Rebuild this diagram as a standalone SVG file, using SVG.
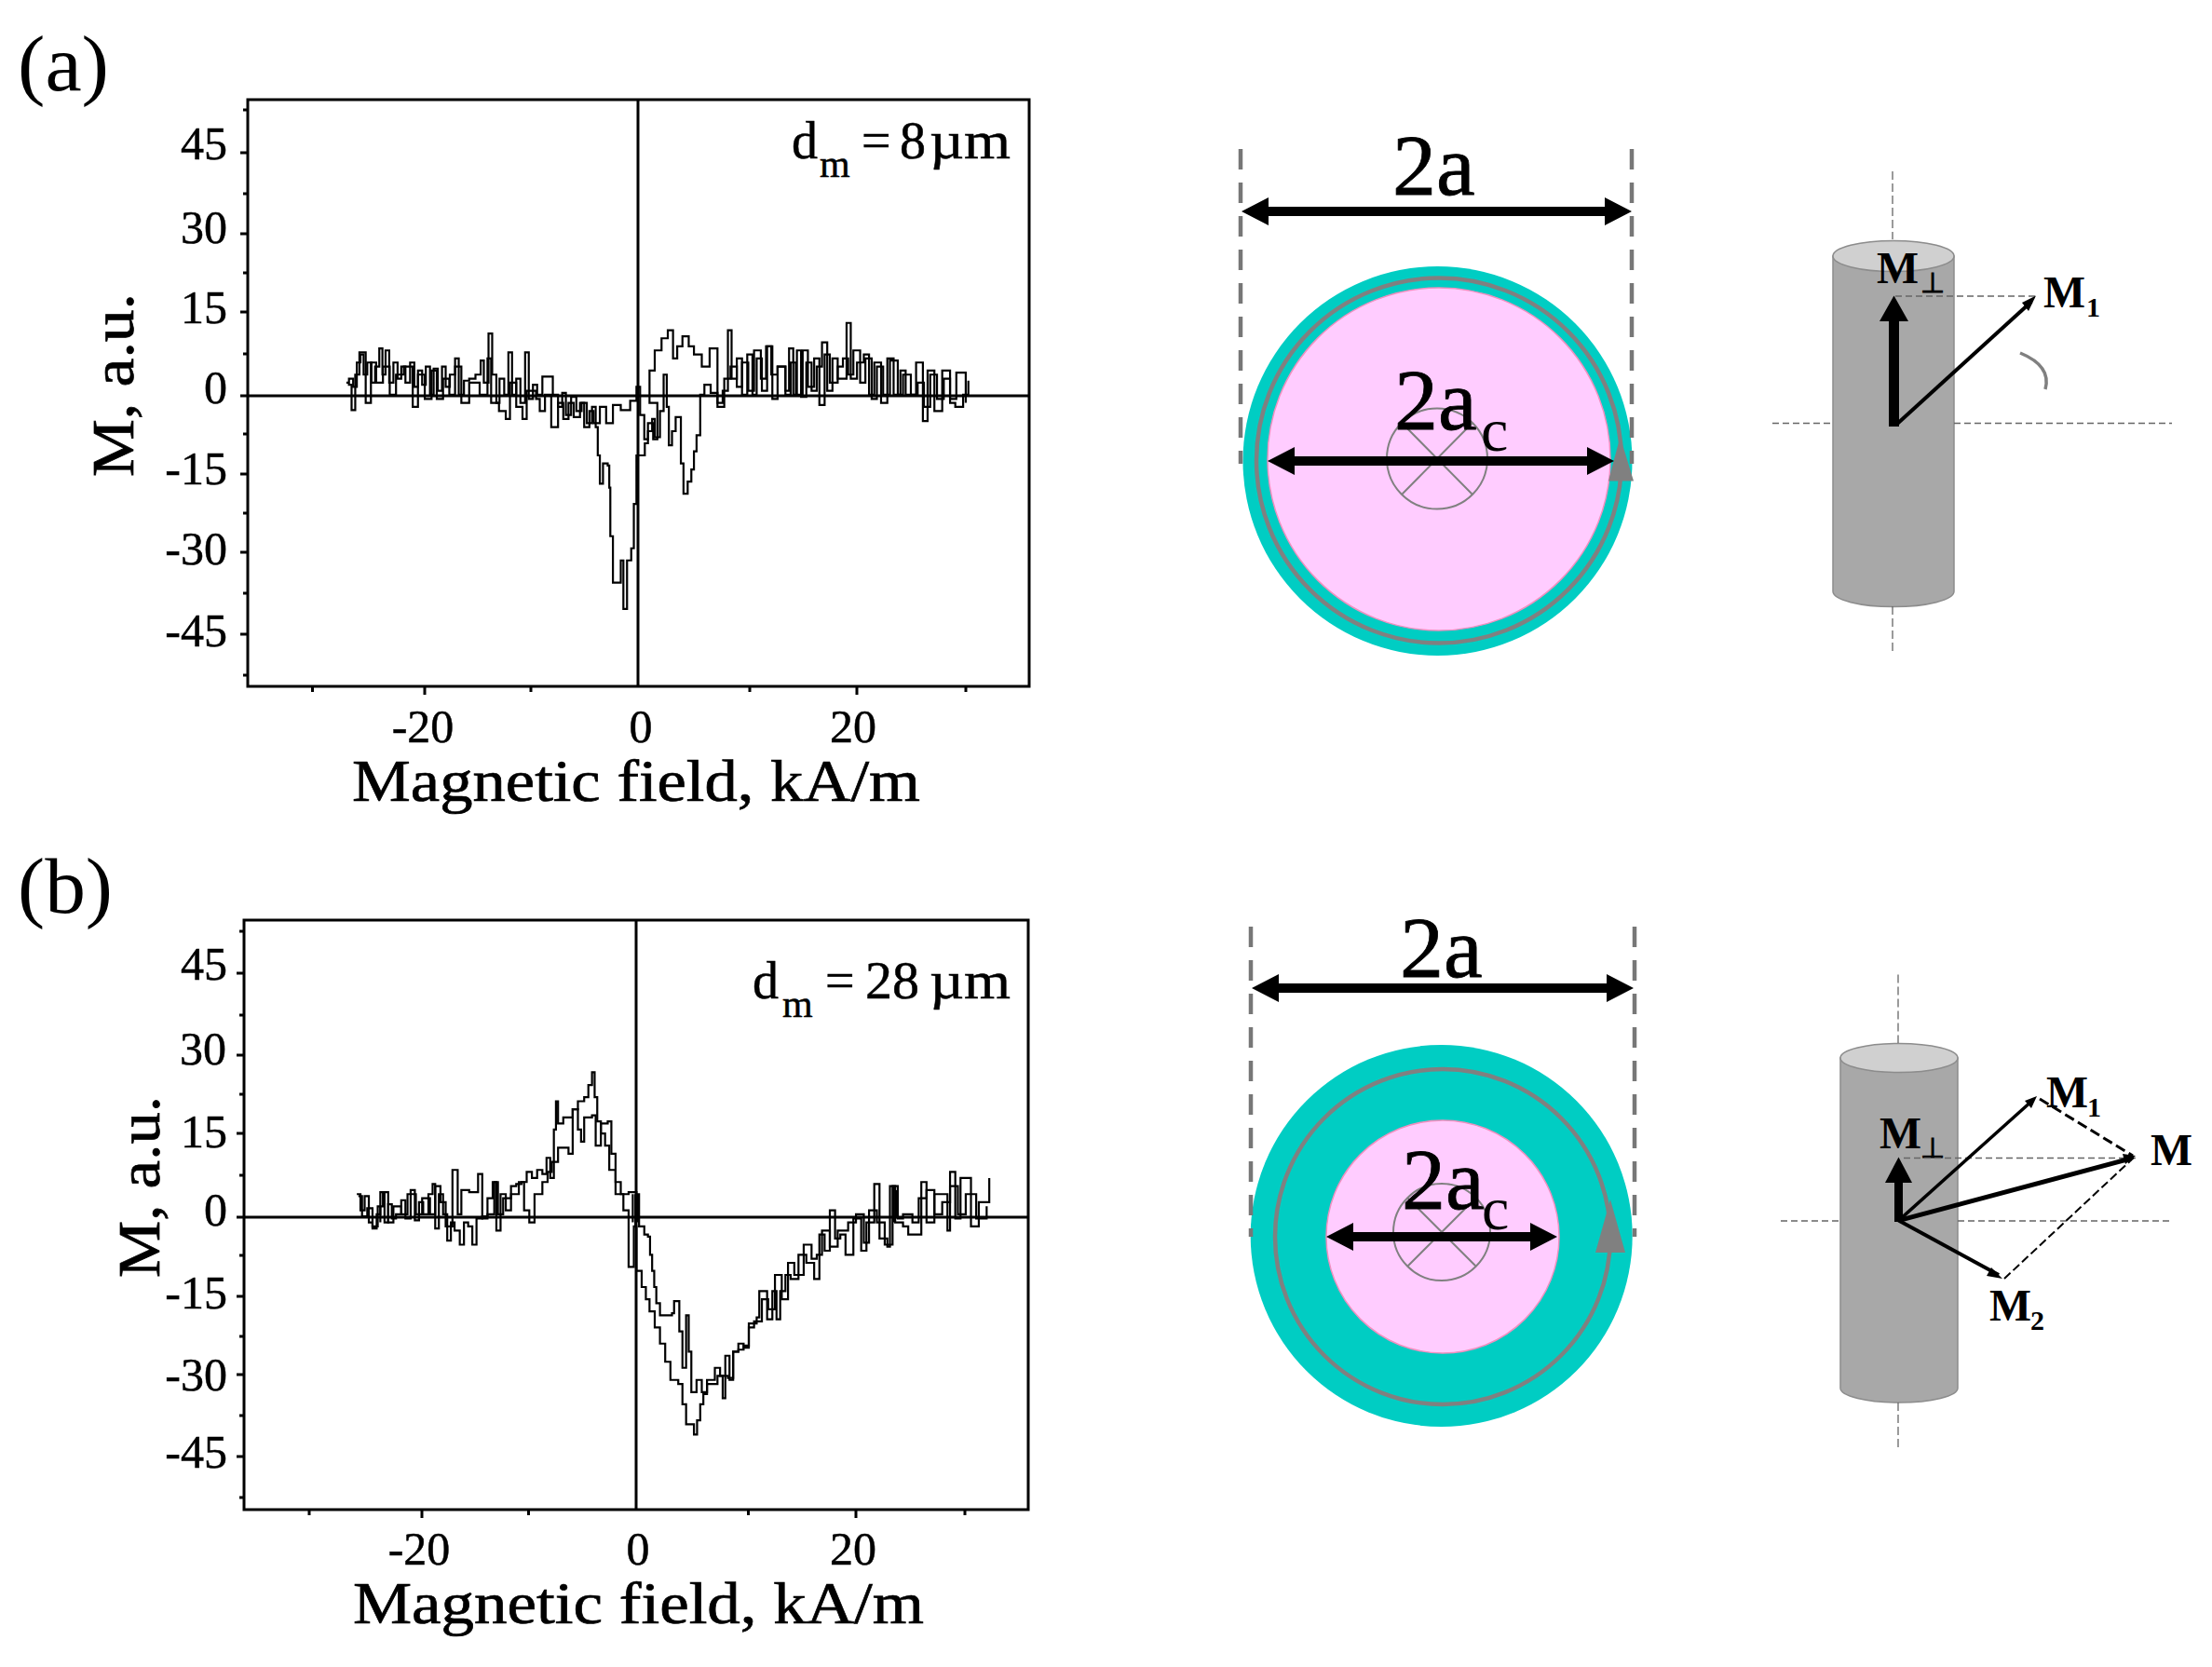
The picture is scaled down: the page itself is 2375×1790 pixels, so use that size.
<svg xmlns="http://www.w3.org/2000/svg" width="2375" height="1790" viewBox="0 0 2375 1790">
<style>
text{font-family:"Liberation Serif","Times New Roman",serif;fill:#000}
.panel{font-size:84px}
.ty{font-size:50px;text-anchor:end;stroke:#000;stroke-width:.5}
.tx{font-size:50px;text-anchor:middle;stroke:#000;stroke-width:.5}
.ax{font-size:64px;stroke:#000;stroke-width:.7}
.dm{font-size:56px;stroke:#000;stroke-width:.5}
.sub{font-size:42px;stroke:#000;stroke-width:.5}
.big{font-size:94px;stroke:#000;stroke-width:.8}
.cs{font-size:66px}
.m{font-size:48px;font-weight:bold}
.ms{font-size:30px;font-weight:bold}
.frame{fill:none;stroke:#000;stroke-width:3}
.axis{stroke:#000;stroke-width:3;fill:none}
.tk{stroke:#000;stroke-width:3;fill:none}
.curve{fill:none;stroke:#000;stroke-width:2.200}
.curve path{vector-effect:non-scaling-stroke}
.gd{stroke:#777;stroke-width:4.500;stroke-dasharray:22 14;fill:none}
.thin{stroke:#666;stroke-width:1.600;stroke-dasharray:7 4;fill:none}
.thinv{stroke:#666;stroke-width:1.300;stroke-dasharray:9 4;fill:none}
.teal{fill:#00cdc3}
.pink{fill:#ffccff;stroke:#f090c0;stroke-width:1.500}
.ring{fill:none;stroke:#808080;stroke-width:4.500}
.sm{fill:none;stroke:#808080;stroke-width:2}
.body{fill:#a8a8a8;stroke:#8c8c8c;stroke-width:1.500}
.top{fill:#d0d0d0;stroke:#8c8c8c;stroke-width:1.500}
.tri{fill:#808080}
.head{fill:#000}
</style>

<g id="labels">
<text class="panel" x="19" y="97" textLength="98" lengthAdjust="spacingAndGlyphs">(a)</text>
<text class="panel" x="19" y="980" textLength="102" lengthAdjust="spacingAndGlyphs">(b)</text>
</g>

<g id="plot-a">
<rect class="frame" x="266" y="107" width="839" height="630"/>
<path class="axis" d="M685 107V737M266 425H1105"/>
<path class="tk" d="M258 164H266M258 251H266M258 335H266M258 425H266M258 509H266M258 593H266M258 681H266M261 118H266M261 208H266M261 293H266M261 380H266M261 466H266M261 551H266M261 637H266M261 725H266M456 737V746M920 737V746M335.500 737V743M570 737V743M805 737V743M1037 737V743"/>
<text class="ty" x="244" y="171">45</text><text class="ty" x="244" y="261">30</text><text class="ty" x="244" y="347">15</text><text class="ty" x="244" y="433">0</text><text class="ty" x="244" y="520">-15</text><text class="ty" x="244" y="606">-30</text><text class="ty" x="244" y="694">-45</text>
<text class="tx" x="454" y="797">-20</text><text class="tx" x="688" y="797">0</text><text class="tx" x="916" y="797">20</text>
<text class="ax" x="378" y="860" textLength="610" lengthAdjust="spacingAndGlyphs">Magnetic field, kA/m</text>
<text class="ax" transform="translate(143,512) rotate(-90)" textLength="197" lengthAdjust="spacingAndGlyphs">M, a.u.</text>
<text class="dm" x="850" y="170">d</text><text class="sub" x="880" y="190">m</text><text class="dm" x="925" y="170">=</text><text class="dm" x="966" y="170">8</text><text class="dm" x="998" y="170" textLength="87" lengthAdjust="spacingAndGlyphs">µm</text>
<g class="curve" transform="translate(240,90) scale(.5612,.4337)">
<path d="M235 740H240V730H248V750H255V690H262V670H268V720H275V690H283V740H290V700H298V655H304V720H310V660H317V740H325V690H333V730H340V700H348V740H357V690H365V750H372V710H380V745H387V700H395V770H402V705H410V760H418V700H425V750H433V720H443V680H450V770H460V735H470V730H482V720H492V685H498V740H507V618H514V720H522V790H528V730H537V770H545V665H552V770H560V730H568V790H577V665H584V780H592V745H600V770H610V725H622V725H630V770H640V800H648V765H655V820H665V775H675V810H685V790H695V840H705V800H712V850H716V920H720V990H726V940H735V945H738V1000H740V1120H745V1235H752V1235H760V1180H765V1300H772V1180H780V1150H785V1040H790V920H800V920H806V890H812V860H820V830H825V875H835V810H842V720H848V800H852V895H858V860H865V825H875V940H880V1015H888V985H895V955H900V910H905V870H912V770H920V745H932V765H945V790H955V760H965V610H972V730H982V680H992V770H1002V670H1012V770H1020V680H1030V760H1040V650H1050V780H1060V700H1075V760H1082V655H1090V770H1097V660H1105V775H1115V690H1125V760H1135V700H1145V640H1155V760H1165V680H1175V730H1192V592H1200V730H1212V690H1225V670H1235V770H1245V690H1258V790H1270V680H1282V770H1295V710H1305V770H1325V690H1338V835H1347V710H1360V810H1375V710H1390V790H1400V800H1415V770H1425V735"/>
<path d="M238 745H245V808H252V720H260V665H272V790H282V690H292V740H305V700H318V770H330V720H345V700H362V800H372V720H385V780H398V710H408V780H420V730H432V770H443V700H455V790H470V740H490V770H505V680H512V790H527V810H540V830H548V740H560V800H572V830H580V760H598V780H605V810H615V770H627V850H640V790H650V830H660V790H670V825H682V790H690V850H700V810H708V840H720V800H732V840H745V795H760V808H778V785H790V750H797V820H805V880H812V840H822V880H830V790H815V710H825V660H838V630H850V610H860V680H868V650H878V625H890V650H900V670H915V700H930V655H945V800H958V730H970V700H982V750H992V690H1004V760H1015V660H1028V730H1038V650H1048V720H1060V700H1075V770H1085V690H1095V770H1108V660H1118V750H1130V680H1140V795H1150V670H1160V740H1175V700H1185V680H1195V720H1205V660H1218V740H1228V680H1240V780H1250V700H1262V770H1275V685H1290V770H1300V720H1315V770H1328V740H1340V800H1352V720H1365V780H1378V730H1390V780H1402V715H1420V790"/>
</g>
</g>

<g id="plot-b">
<rect class="frame" x="262" y="988" width="842" height="633"/>
<path class="axis" d="M683 988V1621M262 1307H1104"/>
<path class="tk" d="M254 1045H262M254 1133H262M254 1217H262M254 1307H262M254 1392H262M254 1476H262M254 1564H262M257 1000H262M257 1090H262M257 1175H262M257 1262H262M257 1348H262M257 1435H262M257 1520H262M257 1608H262M453 1621V1630M919 1621V1630M332 1621V1627M567.500 1621V1627M803.500 1621V1627M1036 1621V1627"/>
<text class="ty" x="244" y="1052">45</text><text class="ty" x="243" y="1143">30</text><text class="ty" x="244" y="1232">15</text><text class="ty" x="244" y="1316">0</text><text class="ty" x="244" y="1405">-15</text><text class="ty" x="244" y="1493">-30</text><text class="ty" x="244" y="1576">-45</text>
<text class="tx" x="450" y="1680">-20</text><text class="tx" x="685" y="1680">0</text><text class="tx" x="916" y="1680">20</text>
<text class="ax" x="379" y="1743" textLength="613" lengthAdjust="spacingAndGlyphs">Magnetic field, kA/m</text>
<text class="ax" transform="translate(171,1372) rotate(-90)" textLength="195" lengthAdjust="spacingAndGlyphs">M, a.u.</text>
<text class="dm" x="808" y="1072">d</text><text class="sub" x="840" y="1092">m</text><text class="dm" x="886" y="1072">=</text><text class="dm" x="929" y="1072" textLength="58" lengthAdjust="spacingAndGlyphs">28</text><text class="dm" x="998" y="1072" textLength="87" lengthAdjust="spacingAndGlyphs">µm</text>
<g class="curve" transform="translate(240,970) scale(.5612,.4337)">
<path d="M255 720H262V760H270V725H278V790H285V805H293V770H300V715H308V790H315V745H322V780H330V770H340V735H348V780H358V710H366V785H374V740H382V770H392V720H400V695H405V805H412V720H420V770H428V835H435V790H442V810H452V845H460V790H468V800H476V845H484V780H495V775H505V730H515V690H522V810H530V720H540V760H550V700H560V695H570V690H580V665H590V680H600V660H610V670H618V630H625V680H632V560H636V490H640V545H650V530H660V530H668V510H678V560H684V590H690V530H705V525H712V600H722V545H735V540H742V620H750V690H760V720H775V715H790V720H795V800H805V820H812V825H816V870H820V910H824V950H828V990H835V1020H858V1015H862V985H872V1060H878V1150H885V1020H890V1110H895V1210H905V1180H915V1210H925V1180H940V1150H950V1170H955V1225H960V1120H968V1180H975V1110H985V1105H995V1095H1005V1040H1020V1025H1025V960H1040V1030H1050V960H1058V1030H1065V960H1075V920H1085V930H1100V870H1115V890H1130V930H1140V820H1150V860H1160V760H1170V830H1180V820H1190V870H1205V780H1220V860H1230V790H1245V695H1255V830H1270V850H1275V700H1285V790H1300V800H1310V820H1335V690H1345V790H1360V720H1385V810H1390V665H1400V780H1410V680H1430V800H1445V740H1465V680"/>
<path d="M258 725H265V775H275V755H285V800H295V750H305V715H315V790H325V750H340V770H352V720H368V770H380V730H395V770H405V700H415V740H425V800H438V660H448V770H455V710H470V715H487V670H495V780H505V770H518V690H525V770H535V730H550V720H565V690H575V760H585V790H595V720H610V690H620V665H628V640H640V605H660V620H668V510H678V490H690V480H698V450H705V418H710V480H715V540H722V570H730V600H738V660H750V720H765V760H775V900H785V800H790V910H800V950H808V980H815V1010H825V1050H835V1090H845V1135H855V1180H870V1190H878V1240H885V1290H900V1315H906V1280H912V1240H918V1215H925V1190H945V1170H965V1175H975V1110H985V1090H995V1100H1005V1050H1015V1035H1030V980H1042V1005H1055V920H1068V980H1080V890H1092V920H1110V845H1125V880H1135V870H1145V810H1160V850H1175V810H1195V790H1210V770H1225V840H1235V760H1250V790H1265V845H1280V700H1290V780H1300V770H1318V790H1330V730H1345V710H1360V770H1375V740H1390V700H1405V770H1420V720H1440V780H1460V750"/>
<path d="M788 720V800M783 720V790M793 720V790M1282 700V790M1288 710V780M300 750V790"/>
</g>
</g>

<g id="circle-a">
<circle class="teal" cx="1543.500" cy="495" r="209"/>
<circle class="ring" cx="1545" cy="494.500" r="196"/>
<circle class="pink" cx="1545" cy="493" r="184"/>
<circle class="sm" cx="1543" cy="492.500" r="54"/>
<path class="sm" d="M1505 454L1581 531M1581 454L1505 531"/>
<polygon class="tri" points="1739.500,469 1727,516.500 1754,516.500"/>
<text class="big" x="1495" y="209">2a</text>
<text class="big" x="1497" y="461">2a</text>
<text class="cs" x="1590" y="484">c</text>
</g>

<g id="circle-b">
<circle class="teal" cx="1547.700" cy="1327" r="205"/>
<circle class="ring" cx="1549" cy="1328" r="180"/>
<circle class="pink" cx="1549" cy="1328" r="125"/>
<circle class="sm" cx="1548" cy="1323" r="52"/>
<path class="sm" d="M1511 1286L1585 1360M1585 1286L1511 1360"/>
<polygon class="tri" points="1729,1288 1713,1345 1745,1345"/>
<text class="big" x="1503" y="1049">2a</text>
<text class="big" x="1505" y="1298">2a</text>
<text class="cs" x="1591" y="1320">c</text>
</g>

<g id="cylinder-a">
<path class="body" d="M1968 275V635A65 16.500 0 0 0 2098 635V275Z"/>
<ellipse class="top" cx="2033" cy="275" rx="65" ry="16.500"/>
<text class="m" x="2015" y="304" textLength="45" lengthAdjust="spacingAndGlyphs">M</text><text class="ms" x="2062" y="314">⊥</text>
<text class="m" x="2194" y="330" textLength="45" lengthAdjust="spacingAndGlyphs">M</text><text class="ms" x="2240" y="340">1</text>
</g>

<g id="cylinder-b">
<path class="body" d="M1976 1136V1490.500A63 15.500 0 0 0 2102 1490.500V1136Z"/>
<ellipse class="top" cx="2039" cy="1136" rx="63" ry="15.500"/>
<text class="m" x="2018" y="1233" textLength="45" lengthAdjust="spacingAndGlyphs">M</text><text class="ms" x="2062" y="1243">⊥</text>
<text class="m" x="2197" y="1189" textLength="45" lengthAdjust="spacingAndGlyphs">M</text><text class="ms" x="2241" y="1199">1</text>
<text class="m" x="2309" y="1251" textLength="45" lengthAdjust="spacingAndGlyphs">M</text>
<text class="m" x="2136" y="1418" textLength="45" lengthAdjust="spacingAndGlyphs">M</text><text class="ms" x="2180" y="1428">2</text>
</g>

<g id="connectors">
<path class="gd" d="M1332 160V498M1752 160V498"/>
<path class="gd" d="M1343 995V1328M1755 995V1328"/>
<polygon class="head" points="1333,227 1362,212 1362,222 1723,222 1723,212 1752,227 1723,242 1723,232 1362,232 1362,242"/>
<polygon class="head" points="1361,495 1390,480 1390,490 1704,490 1704,480 1733,495 1704,510 1704,500 1390,500 1390,510"/>
<polygon class="head" points="1344,1061 1373,1046 1373,1056 1725,1056 1725,1046 1754,1061 1725,1076 1725,1066 1373,1066 1373,1076"/>
<polygon class="head" points="1424,1328 1453,1313 1453,1323 1643,1323 1643,1313 1672,1328 1643,1343 1643,1333 1453,1333 1453,1343"/>

<path class="thinv" d="M2032 184V257M2032 651V702"/>
<path class="thin" d="M1903 454.500H1968M2098 454.500H2332M2035 318H2186"/>
<path d="M2033.500 458V344" stroke="#000" stroke-width="11" fill="none"/>
<polygon class="head" points="2033.500,317.500 2018,345 2049,345"/>
<path d="M2036 456L2181 324" stroke="#000" stroke-width="4" fill="none"/>
<polygon class="head" points="2186,317.500 2171,325 2178,334"/>
<path d="M2169 379Q2203 393 2196 418" stroke="#808080" stroke-width="3.500" fill="none"/>

<path class="thinv" d="M2038 1046.500V1120M2038 1506V1555"/>
<path class="thin" d="M1912 1311H1976M2102 1311H2331M2044 1243.500H2293"/>
<path d="M2038.500 1312V1268" stroke="#000" stroke-width="9" fill="none"/>
<polygon class="head" points="2038.500,1242.500 2024,1270 2053,1270"/>
<path d="M2038.500 1310.600L2183 1181" stroke="#000" stroke-width="3.500" fill="none"/>
<polygon class="head" points="2187,1177 2174,1182 2181,1190"/>
<path d="M2038.500 1310.600L2288 1244" stroke="#000" stroke-width="5" fill="none"/>
<polygon class="head" points="2293,1241 2279,1239 2282,1250"/>
<path d="M2038.500 1310.600L2146 1369" stroke="#000" stroke-width="4" fill="none"/>
<polygon class="head" points="2150,1373 2138,1361 2133,1370"/>
<path d="M2190 1180L2290 1241" stroke="#000" stroke-width="3" stroke-dasharray="11 5" fill="none"/>
<path d="M2152 1373L2291 1243" stroke="#000" stroke-width="2" stroke-dasharray="9 4" fill="none"/>
</g>
</svg>
